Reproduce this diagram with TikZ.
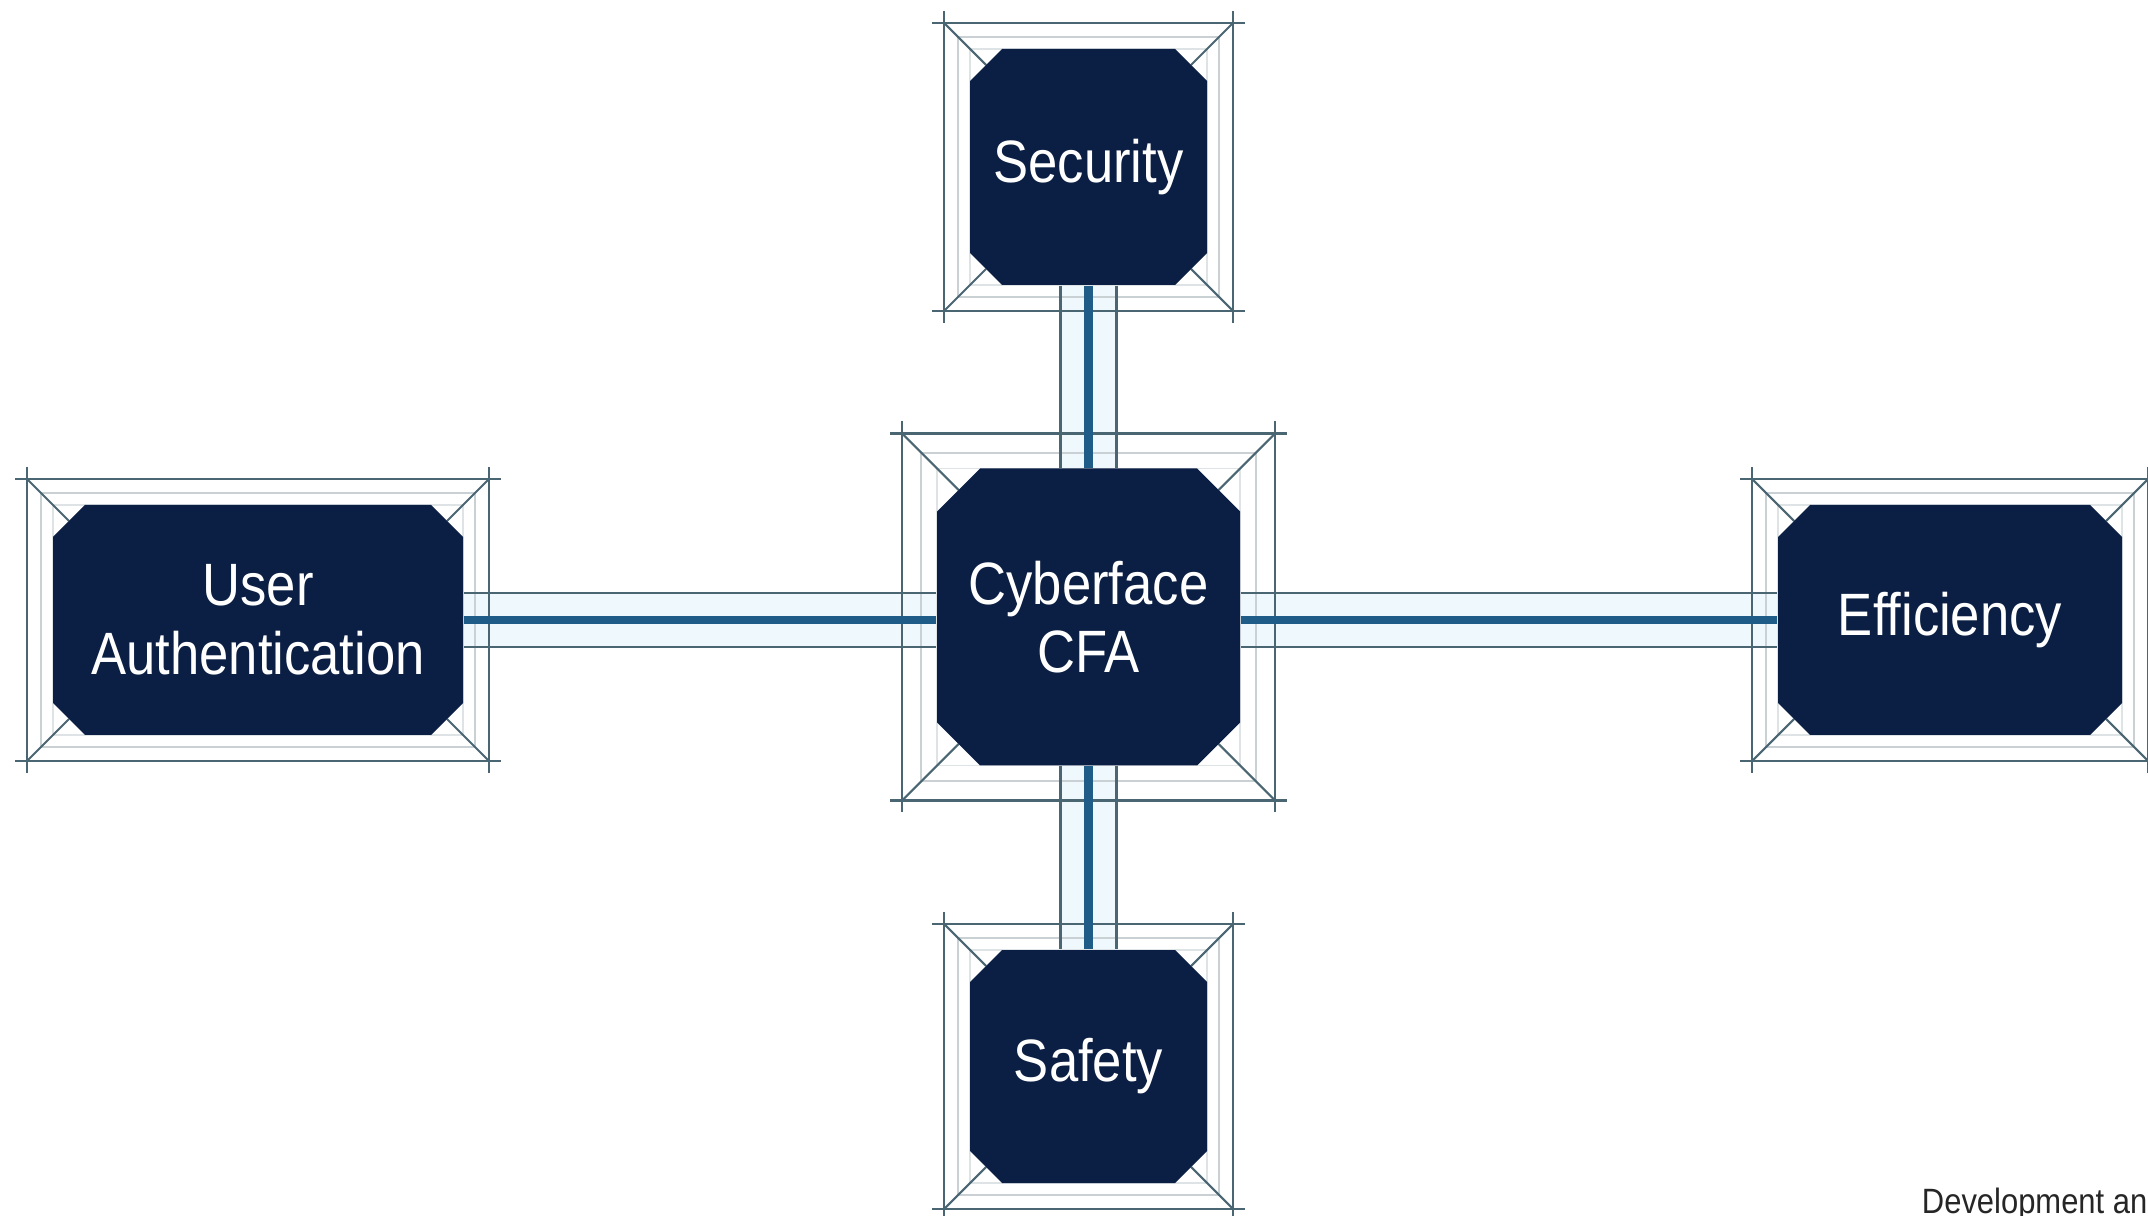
\documentclass[tikz,border=0pt]{standalone}
\usepackage{fontspec}
\setmainfont{Liberation Sans}[FakeStretch=0.88]
\usetikzlibrary{backgrounds}

\definecolor{chipnavy}{HTML}{0B1E43}
\definecolor{chipline}{HTML}{4A6672}
\definecolor{linkblue}{HTML}{1F5C88}
\definecolor{linkglow}{HTML}{EFF8FC}

% #1 name, #2 x, #3 y, #4 half width, #5 half height, #6 margin, #7 chamfer, #8 text
\newcommand{\drawchip}[8]{%
    \begin{scope}[shift={(#2,#3)}]
      \draw[framefaint] (-#4,-#5) rectangle (#4,#5);
      \draw[framemid] (-#4-#6*0.45,-#5-#6*0.45) rectangle (#4+#6*0.45,#5+#6*0.45);
      \draw[frameout] (-#4-#6-12,-#5-#6) -- (#4+#6+12,-#5-#6)
                      (-#4-#6-12,#5+#6) -- (#4+#6+12,#5+#6)
                      (-#4-#6,-#5-#6-12) -- (-#4-#6,#5+#6+12)
                      (#4+#6,-#5-#6-12) -- (#4+#6,#5+#6+12);
      \draw[frameout] (-#4-#6,-#5-#6) -- (-#4+#7/2,-#5+#7/2)
                      (#4+#6,-#5-#6) -- (#4-#7/2,-#5+#7/2)
                      (-#4-#6,#5+#6) -- (-#4+#7/2,#5-#7/2)
                      (#4+#6,#5+#6) -- (#4-#7/2,#5-#7/2);
      \fill[chipnavy] (-#4+#7,-#5) -- (#4-#7,-#5) -- (#4,-#5+#7) -- (#4,#5-#7)
                      -- (#4-#7,#5) -- (-#4+#7,#5) -- (-#4,#5-#7) -- (-#4,-#5+#7) -- cycle;
      \node[chiptext, minimum width={2*#4*0.01cm}, minimum height={2*#5*0.01cm}] (#1) at (0,0) {#8};
    \end{scope}%
}

\begin{document}
\begin{tikzpicture}[x=0.01cm, y=-0.01cm]
    \tikzset{
      chiptext/.style={inner sep=0pt, align=center, text=white,
        font=\fontsize{17}{19.5}\selectfont},
      frameout/.style={draw=chipline, line width=0.6pt},
      framemid/.style={draw=chipline!30, line width=0.5pt},
      framefaint/.style={draw=chipline!18, line width=0.5pt},
      linkthin/.style={draw=chipline, line width=0.6pt},
      linkthick/.style={draw=linkblue, line width=2.4pt}
    }
    \useasboundingbox (0,0) rectangle (2148,1216);

    \drawchip{sec}{1088.5}{167}{118.5}{118}{26}{32}{Security}
    \drawchip{cfa}{1088.5}{617}{151.5}{148.5}{35}{43}{Cyberface\\CFA}
    \drawchip{saf}{1088.5}{1066.5}{118.5}{116.5}{26}{32}{Safety}
    \drawchip{usr}{258}{620}{205}{115}{26}{32}{User\\Authentication}
    \drawchip{eff}{1950}{620}{172}{115}{26}{32}{Efficiency}

    \begin{pgfonlayer}{background}
      \fill[white] (0,0) rectangle (2148,1216);
      \fill[linkglow] ([xshift=-0.28cm]sec.south) rectangle ([xshift=0.28cm]cfa.north);
      \fill[linkglow] ([xshift=-0.28cm]cfa.south) rectangle ([xshift=0.28cm]saf.north);
      \fill[linkglow] ([yshift=0.27cm]usr.east) rectangle ([yshift=-0.27cm]usr.east -| cfa.west);
      \fill[linkglow] ([yshift=0.27cm]eff.west -| cfa.east) rectangle ([yshift=-0.27cm]eff.west);
    \end{pgfonlayer}

    % links
    \foreach \s in {-0.28cm, 0.28cm} {
      \draw[linkthin] ([xshift=\s]sec.south) -- ([xshift=\s]cfa.north);
      \draw[linkthin] ([xshift=\s]cfa.south) -- ([xshift=\s]saf.north);
    }
    \foreach \s in {-0.27cm, 0.27cm} {
      \draw[linkthin] ([yshift=\s]usr.east) -- ([yshift=\s]usr.east -| cfa.west);
      \draw[linkthin] ([yshift=\s]eff.west -| cfa.east) -- ([yshift=\s]eff.west);
    }
    \draw[linkthick] (sec) -- (cfa);
    \draw[linkthick] (cfa) -- (saf);
    \draw[linkthick] (usr.east) -- (usr.east -| cfa.west);
    \draw[linkthick] (eff.west -| cfa.east) -- (eff.west);

    \node[anchor=base east, inner sep=0pt, text=black!85,
      font=\fontsize{10}{12}\selectfont] (note) at (2148,1213) {Development an};
\end{tikzpicture}
\end{document}
